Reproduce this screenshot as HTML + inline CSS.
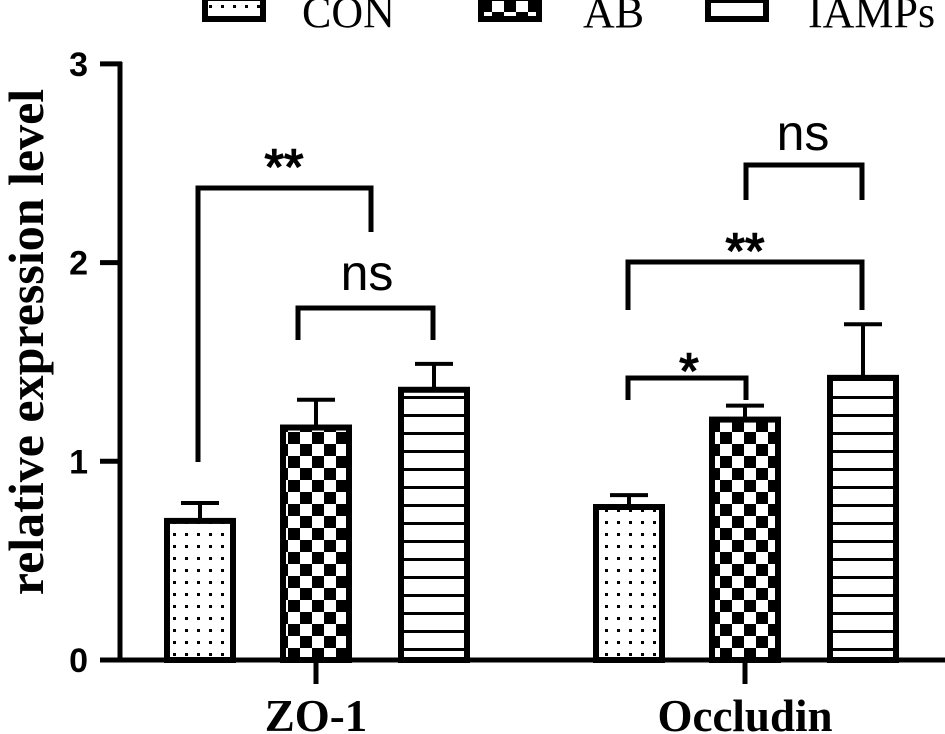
<!DOCTYPE html>
<html><head><meta charset="utf-8"><style>
html,body{margin:0;padding:0;background:#fff;}
svg{display:block;}
</style></head><body>
<svg id="chart" width="945" height="734" viewBox="0 0 945 734" xmlns="http://www.w3.org/2000/svg">
<defs>
<pattern id="pDots" width="12" height="12" patternUnits="userSpaceOnUse"><rect width="12" height="12" fill="#fff"/><rect x="5" y="5" width="3" height="3" fill="#000"/></pattern>
<pattern id="pCheck" width="24" height="24" patternUnits="userSpaceOnUse"><rect width="24" height="24" fill="#fff"/><rect width="12" height="12" fill="#000"/><rect x="12" y="12" width="12" height="12" fill="#000"/></pattern>
<pattern id="pLines" width="18" height="18" patternUnits="userSpaceOnUse"><rect width="18" height="18" fill="#fff"/><rect y="0" width="18" height="3" fill="#000"/></pattern>
</defs>
<g id="legend"></g>
<g id="axes"></g>
<g id="bars"></g>
<g id="sig"></g>
</svg>
<script>
const groups=["ZO-1","Occludin"];
const seriesNames=["CON","AB","IAMPs"];
const conVals=[0.70,0.77];
const abVals=[1.17,1.21];
const iampsVals=[1.36,1.42];
const conErr=[0.09,0.06];
const abErr=[0.14,0.07];
const iampsErr=[0.13,0.27];
const yTicks=[0,1,2,3];
const NS="http://www.w3.org/2000/svg";
const svg=document.getElementById('chart');
function el(tag,attrs,parent,text){const e=document.createElementNS(NS,tag);for(const k in attrs)e.setAttribute(k,attrs[k]);if(text!==undefined)e.textContent=text;(parent||svg).appendChild(e);return e;}
const y0=660,yScale=198.7;
function y(v){return y0-v*yScale;}
const groupCenters=[316,745];
const barOffsets=[-116,0,118];
function xBar(g,s){return groupCenters[g]+barOffsets[s];}
const barW=66;
const fills=["url(#pDots)","url(#pCheck)","url(#pLines)"];
const vals=[conVals,abVals,iampsVals];
const errs=[conErr,abErr,iampsErr];
const axes=document.getElementById('axes');
let a=el('line',{x1:120,y1:62,x2:120,y2:662,stroke:'#000','stroke-width':5},axes);

a=el('line',{x1:118,y1:660,x2:945,y2:660,stroke:'#000','stroke-width':5},axes);

yTicks.forEach(t=>{
 const tk=el('line',{x1:100,y1:y(t),x2:122,y2:y(t),stroke:'#000','stroke-width':5},axes);
 
 const lb=el('text',{x:88,y:y(t)+12,'text-anchor':'end','font-family':'Liberation Sans, sans-serif','font-weight':'bold','font-size':34},axes,String(t));
 
});
groups.forEach((g,i)=>{
 const tk=el('line',{x1:groupCenters[i],y1:660,x2:groupCenters[i],y2:684,stroke:'#000','stroke-width':5},axes);
 
 const lb=el('text',{x:groupCenters[i],y:731,'text-anchor':'middle','font-family':'Liberation Serif, serif','font-weight':'bold','font-size':45},axes,g);
 
});
const yt=el('text',{transform:'translate(43,342) rotate(-90)','text-anchor':'middle','font-family':'Liberation Serif, serif','font-weight':'bold','font-size':50},axes,'relative expression level');

const bars=document.getElementById('bars');
groups.forEach((g,gi)=>{
 seriesNames.forEach((s,si)=>{
  const cx=xBar(gi,si),v=vals[si][gi],e=errs[si][gi];
  const er=el('line',{x1:cx,y1:y(v),x2:cx,y2:y(v+e),stroke:'#000','stroke-width':4},bars);
  
  const cap=el('line',{x1:cx-19,y1:y(v+e),x2:cx+19,y2:y(v+e),stroke:'#000','stroke-width':4},bars);
  
  const r=el('rect',{x:cx-barW/2,y:y(v),width:barW,height:y0-y(v),fill:fills[si],stroke:'#000','stroke-width':6},bars);
  
 });
});
const sig=document.getElementById('sig');
function bracket(x1,yl,x2,yr,top,label,lx,ly,fs){
 const p=el('path',{d:`M${x1},${yl} V${top} H${x2} V${yr}`,fill:'none',stroke:'#000','stroke-width':5},sig);
 
 const t=el('text',{x:lx,y:ly,'text-anchor':'middle','font-family':'Liberation Sans, sans-serif','font-size':fs,'stroke':'#000','stroke-width':label.indexOf('*')>=0?1.5:0},sig,label);
 
}
bracket(198,462,371,232,188,'**',284,184,50);
bracket(298,340,433,340,308,'ns',367,290,50);
bracket(628,400,746,400,378,'*',689,388,50);
bracket(628,310,862,310,262,'**',745,268,50);
bracket(746,200,862,200,165,'ns',803,150,50);
const lg=document.getElementById('legend');
const legX=[202,478,705],legTx=[302,583,808];
seriesNames.forEach((s,i)=>{
 const r=el('rect',{x:legX[i]+3,y:-2,width:58,height:21,fill:fills[i],stroke:'#000','stroke-width':6},lg);
 
 const t=el('text',{x:legTx[i],y:27,'font-family':'Liberation Serif, serif','font-size':44},lg,s);
 
});
</script>
</body></html>
